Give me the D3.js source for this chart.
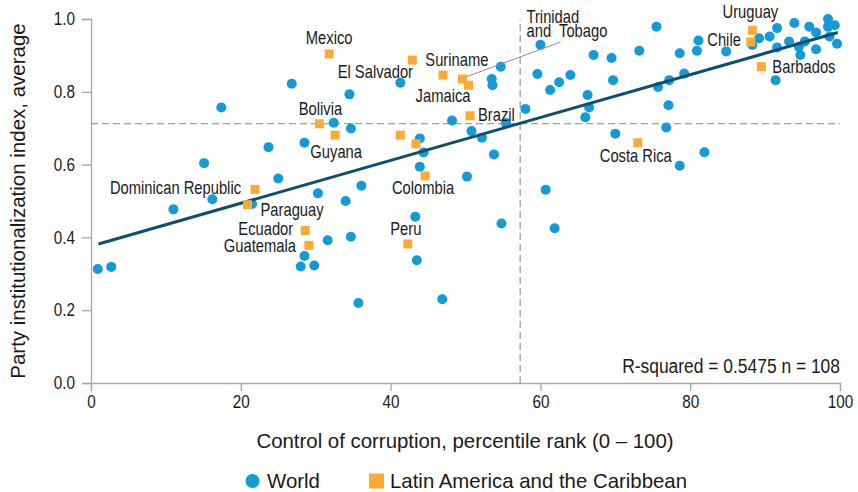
<!DOCTYPE html>
<html>
<head>
<meta charset="utf-8">
<script src="https://cdn.jsdelivr.net/npm/d3@7"></script>
<style>
  body { margin: 0; background: #fff; }
  svg text { font-family: "Liberation Sans", Arial, sans-serif; fill: #1a1a1a; }
</style>
</head>
<body>
<div id="chart"></div>
<script>
// world sample (blue dots)
let worldX = [0.9, 2.7, 11.0, 15.1, 16.2, 17.4, 21.5, 23.7, 25.0, 26.8, 28.0, 28.5, 28.5, 29.8, 30.3, 31.6, 32.4, 34.0, 34.5, 34.7,
    34.7, 35.7, 36.1, 41.3, 43.3, 43.5, 43.9, 44.4, 43.9, 46.9, 48.2, 50.2, 50.8, 52.2, 53.5, 53.6, 53.8, 54.7, 54.8, 55.4,
    58.0, 59.6, 60.0, 60.7, 61.3, 61.9, 62.5, 64.0, 66.0, 66.3, 66.5, 67.1, 69.5, 69.7, 70.0, 73.2, 75.5, 75.7, 76.8, 77.1,
    77.2, 78.6, 78.6, 79.2, 80.9, 81.1, 81.9, 84.8, 88.3, 89.2, 90.6, 91.4, 91.6, 91.6, 93.2, 93.9, 94.5, 94.7, 95.3, 95.9,
    96.8, 96.8, 98.4, 98.4, 98.6, 99.3, 99.6]
let worldY = [0.313, 0.319, 0.477, 0.604, 0.505, 0.757, 0.492, 0.648, 0.562, 0.822, 0.320, 0.349, 0.660, 0.323, 0.521, 0.392, 0.715, 0.500, 0.793, 0.699,
    0.402, 0.220, 0.542, 0.825, 0.457, 0.337, 0.672, 0.633, 0.594, 0.230, 0.721, 0.567, 0.692, 0.674, 0.835, 0.818, 0.628, 0.869, 0.438, 0.714,
    0.753, 0.849, 0.929, 0.531, 0.805, 0.425, 0.826, 0.846, 0.730, 0.791, 0.757, 0.901, 0.893, 0.832, 0.685, 0.913, 0.979, 0.813, 0.702, 0.763,
    0.832, 0.906, 0.597, 0.850, 0.913, 0.941, 0.634, 0.911, 0.929, 0.947, 0.952, 0.832, 0.975, 0.922, 0.938, 0.989, 0.924, 0.901, 0.938, 0.979,
    0.963, 0.917, 1.000, 0.979, 0.952, 0.983, 0.932]

// Latin America and the Caribbean (orange squares)
let lacNames = ["Mexico", "Suriname", "El Salvador", "Trinidad and Tobago", "Jamaica", "Brazil", "Bolivia", "Guyana",
    "Dominican Republic", "Paraguay", "Ecuador", "Guatemala", "Peru", "Colombia", "Costa Rica", "Uruguay", "Chile", "Barbados", null, null]
let lacX = [31.8, 42.9, 47.0, 49.6, 50.4, 50.6, 30.5, 32.6, 21.9, 20.9, 28.6, 29.1, 42.3, 44.6, 73.0, 88.3, 88.1, 89.5, 41.3, 43.4]
let lacY = [0.904, 0.887, 0.846, 0.835, 0.818, 0.734, 0.712, 0.681, 0.532, 0.490, 0.419, 0.378, 0.382, 0.569, 0.660, 0.969, 0.937, 0.869, 0.681, 0.657]

let xTicks = [0, 20, 40, 60, 80, 100]
let yTicks = [0, 0.2, 0.4, 0.6, 0.8, 1.0]

// fitted line end points and the two reference (average) lines
let fitX = [1.0, 99.7]
let fitY = [0.382, 0.963]
let avgX = 57.3
let avgY = 0.7125
let rSquared = "0.5475"
let nObs = 108

let xTitle = "Control of corruption, percentile rank (0 – 100)"
let yTitle = "Party institutionalization index, average"
let legendNames = ["World", "Latin America and the Caribbean"]

// label placement, px offsets from the square
let labelPos = {
    "Mexico": [0, -10, "middle"],
    "Suriname": [13, 6, "start"],
    "El Salvador": [-30, 3, "end"],
    "Jamaica": [2, 17, "end"],
    "Brazil": [8, 5, "start"],
    "Bolivia": [1, -9, "middle"],
    "Guyana": [1, 23, "middle"],
    "Dominican Republic": [-14, 5, "end"],
    "Paraguay": [13, 11, "start"],
    "Ecuador": [-12, 5, "end"],
    "Guatemala": [-13, 7, "end"],
    "Peru": [-2, -9, "middle"],
    "Colombia": [-2, 18, "middle"],
    "Costa Rica": [-2, 19, "middle"],
    "Uruguay": [-2, -12, "middle"],
    "Chile": [-10, 4, "end"],
    "Barbados": [11, 6, "start"]
}

let width = 858, height = 492
let margin = { top: 19, right: 18, bottom: 109, left: 91 }
let narrow = 0.82   // the chart's labels use a condensed face

let svg = d3.select("#chart")
    .append("svg")
    .attr("width", width)
    .attr("height", height)

let x = d3.scaleLinear().domain([0, 100]).range([margin.left, width - margin.right])
let y = d3.scaleLinear().domain([0, 1]).range([height - margin.bottom, margin.top])

let axisColor = "#a6a6a6"
let blue = "#129bd8"
let orange = "#fbab35"

// squeezed text, placed at (px, py)
function narrowText(parent, px, py, str, size, anchor, k) {
    return parent.append("text")
        .attr("transform", "translate(" + px + "," + py + ") scale(" + (k || narrow) + ",1)")
        .attr("text-anchor", anchor || "start")
        .attr("font-size", size)
        .text(str)
}

// axes
let xAxis = svg.append("g")
    .attr("transform", "translate(0," + y(0) + ")")
    .call(d3.axisBottom(x).tickValues(xTicks).tickSize(8).tickPadding(4).tickFormat(d3.format("d")))
let yAxis = svg.append("g")
    .attr("transform", "translate(" + x(0) + ",0)")
    .call(d3.axisLeft(y).tickValues(yTicks).tickSize(9).tickPadding(7).tickFormat(d3.format(".1f")))

for (let ax of [xAxis, yAxis]) {
    ax.select(".domain").attr("stroke", axisColor).attr("stroke-width", 1.3)
    ax.selectAll(".tick line").attr("stroke", axisColor).attr("stroke-width", 1.3)
    ax.selectAll(".tick text")
        .attr("font-size", 18)
        .attr("fill", "#1a1a1a")
        .attr("font-family", null)
        .attr("x", function () { return (+d3.select(this).attr("x") || 0) / 0.85 })
        .attr("transform", "scale(0.85,1)")
}

// dashed average lines
svg.append("line")
    .attr("x1", x(0)).attr("x2", x(100))
    .attr("y1", y(avgY)).attr("y2", y(avgY))
    .attr("stroke", "#9e9e9e").attr("stroke-width", 1.3).attr("stroke-dasharray", "7,4")
svg.append("line")
    .attr("x1", x(avgX)).attr("x2", x(avgX))
    .attr("y1", y(0)).attr("y2", y(1))
    .attr("stroke", "#9e9e9e").attr("stroke-width", 1.3).attr("stroke-dasharray", "7,4")

// world dots
svg.selectAll("circle.world")
    .data(worldX.map((d, i) => [d, worldY[i]]))
    .enter()
    .append("circle")
    .attr("class", "world")
    .attr("cx", d => x(d[0]))
    .attr("cy", d => y(d[1]))
    .attr("r", 5)
    .attr("fill", blue)

// fitted line
svg.append("line")
    .attr("x1", x(fitX[0])).attr("y1", y(fitY[0]))
    .attr("x2", x(fitX[1])).attr("y2", y(fitY[1]))
    .attr("stroke", "#0d4f6e")
    .attr("stroke-width", 3)

let lac = lacNames.map((n, i) => ({ name: n, x: lacX[i], y: lacY[i] }))

// leader line for Trinidad and Tobago
let tt = lac.find(d => d.name === "Trinidad and Tobago")
svg.append("line")
    .attr("x1", x(tt.x) + 3).attr("y1", y(tt.y) - 2)
    .attr("x2", x(tt.x) + 98).attr("y2", y(tt.y) - 37)
    .attr("stroke", "#8c8c8c").attr("stroke-width", 1)

let sq = 9
svg.selectAll("rect.lac")
    .data(lac)
    .enter()
    .append("rect")
    .attr("class", "lac")
    .attr("x", d => x(d.x) - sq / 2)
    .attr("y", d => y(d.y) - sq / 2)
    .attr("width", sq)
    .attr("height", sq)
    .attr("fill", orange)

lac.filter(d => labelPos[d.name]).forEach(d => {
    let p = labelPos[d.name]
    narrowText(svg, x(d.x) + p[0], y(d.y) + p[1], d.name, 18, p[2])
})

narrowText(svg, x(tt.x) + 64, y(tt.y) - 56.5, "Trinidad", 18)
narrowText(svg, x(tt.x) + 64, y(tt.y) - 42, "and  Tobago", 18).style("white-space", "pre")

// stats note
narrowText(svg, x(100), y(0) - 10, "R-squared = " + rSquared + " n = " + nObs, 21, "end", 0.83)

// axis titles
svg.append("text")
    .attr("x", 465)
    .attr("y", 448)
    .attr("text-anchor", "middle")
    .attr("font-size", 20.4)
    .text(xTitle)

svg.append("text")
    .attr("transform", "translate(25," + (y(0) + y(1)) / 2 + ") rotate(-90)")
    .attr("text-anchor", "middle")
    .attr("font-size", 20.5)
    .text(yTitle)

// legend
let legend = svg.append("g").attr("transform", "translate(0,481)")
legend.append("circle").attr("cx", 252.5).attr("cy", 0).attr("r", 7).attr("fill", blue)
legend.append("text").attr("x", 267).attr("y", 7).attr("font-size", 20.4).text(legendNames[0])
legend.append("rect").attr("x", 369).attr("y", -7.5).attr("width", 15).attr("height", 15).attr("fill", orange)
legend.append("text").attr("x", 390).attr("y", 7).attr("font-size", 20.4).text(legendNames[1])
</script>
</body>
</html>
